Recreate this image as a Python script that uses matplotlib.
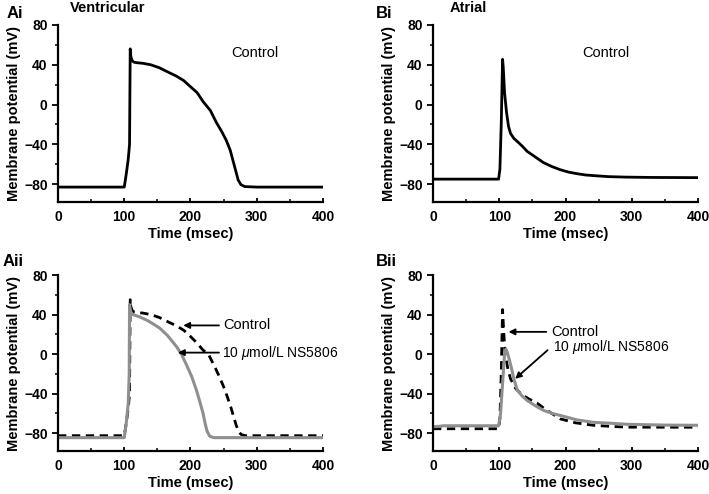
import matplotlib
matplotlib.use("Agg")
import matplotlib.pyplot as plt
from matplotlib.ticker import MultipleLocator

plt.rcParams['font.family'] = ['Liberation Sans', 'DejaVu Sans']
plt.rcParams['mathtext.fontset'] = 'custom'
plt.rcParams['mathtext.it'] = 'Liberation Sans:italic'
plt.rcParams['mathtext.rm'] = 'Liberation Sans'

# ---- data (time in msec, potential in mV) ----
vent_ctrl_t = [0, 100, 103, 106, 108, 109, 110, 112, 115, 120, 128, 140, 153, 165, 179, 190,
               199, 210, 219, 230, 239, 247, 254, 260, 264, 268, 272, 276, 282, 300, 400]
vent_ctrl_v = [-83, -83, -70, -55, -40, 56, 48, 44, 42.5, 42, 41.5, 40, 37, 33, 28.5, 24,
               18.5, 12, 3, -6, -18, -27, -36, -46, -56, -66, -76, -80.5, -82.5, -83, -83]

atr_ctrl_t = [0, 99, 101, 103, 105, 106, 108, 111, 114, 117, 122, 127, 135, 142, 155, 167,
              180, 192, 205, 217, 230, 243, 265, 293, 330, 400]
atr_ctrl_v = [-75, -75, -65, -20, 45.5, 38, 12, -8, -22, -29, -34, -37, -42, -47, -53, -58.5,
              -62.5, -65.5, -68, -69.5, -70.8, -71.5, -72.5, -73, -73.3, -73.5]

vent_ctrl2_t = [0, 100, 103, 106, 108, 109, 110, 112, 115, 120, 128, 140, 153, 165, 179, 190,
                199, 210, 219, 227, 236, 243, 250, 256, 261, 265, 269, 273, 277, 283, 300, 400]
vent_ctrl2_v = [-82.5, -82.5, -70, -55, -40, 55, 48, 44, 42.5, 42, 41.5, 40, 37, 33, 28.5, 24,
                18.5, 11, 4, 0, -12, -22, -33, -44, -54, -63, -72, -79, -81.5, -82.5, -82.5, -82.5]

vent_ns_t = [0, 100, 103, 106, 107.5, 108, 109, 111, 115, 123, 135, 145, 154, 165, 179, 187,
             194, 202, 209, 214, 219, 222, 225, 229, 235, 400]
vent_ns_v = [-84.5, -84.5, -70, -50, -20, 50, 45, 41, 39.5, 37.7, 34, 30, 26, 19, 7.5, -1,
             -11, -23, -36.5, -48, -60, -70, -78, -83, -84.5, -84.5]

atr_ctrl2_t = [0, 99, 101, 103, 105, 107, 109, 113, 117, 125, 134, 145, 157, 170, 192, 215,
               242, 270, 293, 400]
atr_ctrl2_v = [-75.5, -75.5, -65, -20, 45, 20, 0, -15, -25, -35, -41, -45.5, -49.5, -56,
               -65.5, -69.5, -72, -73.2, -73.9, -74]

atr_ns_t = [0, 10, 15, 99, 102, 105, 108, 110, 112, 115, 118, 122, 127, 134, 142, 155, 167,
            180, 192, 217, 242, 270, 293, 350, 400]
atr_ns_v = [-73.5, -73, -72.5, -72.5, -60, -30, 0, 5, 2, -5, -13, -25, -36, -42, -46.8, -52.5,
            -57, -60, -62, -66.5, -69, -70, -71, -71.8, -72]

x_ticks = [0, 100, 200, 300, 400]
y_ticks = [-80, -40, 0, 40, 80]

GRAY = '#8f8f8f'

fig = plt.figure(figsize=(7.09, 4.94), dpi=100)
W, H = 709, 494

def make_ax(left, top, right, bottom):
    return fig.add_axes([left / W, 1 - bottom / H, (right - left) / W, (bottom - top) / H])

ax_ai = make_ax(58, 25, 323, 202)
ax_bi = make_ax(433, 25, 698, 202)
ax_aii = make_ax(58, 275, 323, 451)
ax_bii = make_ax(433, 275, 698, 451)

for ax in (ax_ai, ax_bi, ax_aii, ax_bii):
    ax.set_xlim(0, 400)
    ax.set_ylim(-98, 80)
    ax.spines['top'].set_visible(False)
    ax.spines['right'].set_visible(False)
    ax.spines['left'].set_linewidth(1.6)
    ax.spines['bottom'].set_linewidth(1.6)
    ax.set_xticks(x_ticks)
    ax.set_yticks(y_ticks)
    ax.xaxis.set_minor_locator(MultipleLocator(50))
    ax.yaxis.set_minor_locator(MultipleLocator(20))
    ax.tick_params(axis='y', which='major', direction='out', length=4, width=1.3, labelsize=10)
    ax.tick_params(axis='y', which='minor', direction='out', length=2.5, width=1.1)
    ax.tick_params(axis='x', which='major', direction='in', length=3, width=1.3, labelsize=10, pad=6)
    ax.tick_params(axis='x', which='minor', direction='in', length=2.5, width=1.1)
    for lbl in ax.get_xticklabels() + ax.get_yticklabels():
        lbl.set_fontweight('bold')
    ax.set_xlabel('Time (msec)', fontsize=10.5, fontweight='bold', labelpad=2)
    ax.set_ylabel('Membrane potential (mV)', fontsize=10.5, fontweight='bold', labelpad=2)

ax_ai.plot(vent_ctrl_t, vent_ctrl_v, color='black', lw=2)
ax_ai.text(262, 52, 'Control', fontsize=10.5, va='center', ha='left')

ax_bi.plot(atr_ctrl_t, atr_ctrl_v, color='black', lw=2)
ax_bi.text(226, 52, 'Control', fontsize=10.5, va='center', ha='left')

ax_aii.plot(vent_ctrl2_t, vent_ctrl2_v, color='black', lw=2, dashes=(3, 2))
ax_aii.plot(vent_ns_t, vent_ns_v, color=GRAY, lw=2.2)
arrow = dict(arrowstyle='-|>', color='black', lw=1.3, mutation_scale=9, shrinkA=0, shrinkB=0)
ax_aii.annotate('', xy=(189, 29), xytext=(243, 29), arrowprops=arrow)
ax_aii.text(250, 29, 'Control', fontsize=10.5, va='center', ha='left')
ax_aii.annotate('', xy=(181, 1.5), xytext=(243, 1.5), arrowprops=arrow)
ax_aii.text(248, 1.5, '10 $\\mathit{\\mu}$mol/L NS5806', fontsize=10, va='center', ha='left')

ax_bii.plot(atr_ctrl2_t, atr_ctrl2_v, color='black', lw=2, dashes=(3, 2))
ax_bii.plot(atr_ns_t, atr_ns_v, color=GRAY, lw=2.2)
ax_bii.annotate('', xy=(114, 22.5), xytext=(171, 22.5), arrowprops=arrow)
ax_bii.text(178, 22.5, 'Control', fontsize=10.5, va='center', ha='left')
ax_bii.annotate('', xy=(124, -25), xytext=(173, 4), arrowprops=arrow)
ax_bii.text(181, 7, '10 $\\mathit{\\mu}$mol/L NS5806', fontsize=10, va='center', ha='left')

# panel labels and titles
def ftext(x, y, s, size, weight='bold'):
    fig.text(x / W, 1 - y / H, s, fontsize=size, fontweight=weight, va='center', ha='left')

ftext(7, 14, 'Ai', 12)
ftext(70, 8, 'Ventricular', 10.5)
ftext(376, 14, 'Bi', 12)
ftext(450, 8, 'Atrial', 10.5)
ftext(3, 261, 'Aii', 12)
ftext(376, 261, 'Bii', 12)

fig.savefig('out.png', dpi=100)
